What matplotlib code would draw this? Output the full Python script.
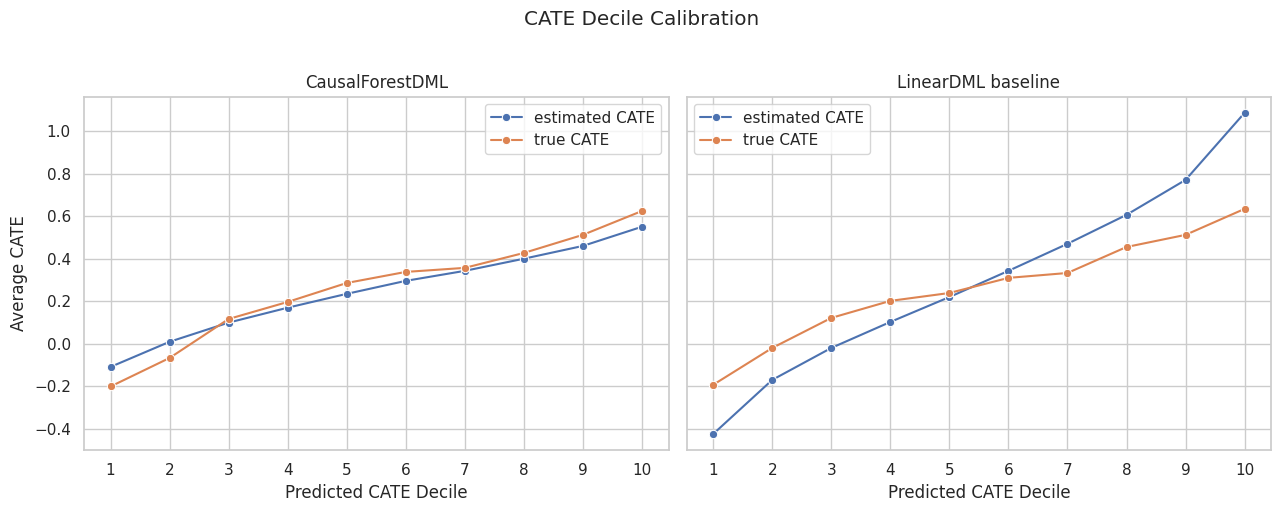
import numpy as np
import pandas as pd
import matplotlib
matplotlib.use('Agg')
import matplotlib.pyplot as plt
import seaborn as sns

# Данные по децилям
deciles = list(range(1, 11))

cf_estimated = [-0.108, 0.010, 0.100, 0.170, 0.235, 0.296, 0.343, 0.400, 0.460, 0.550]
cf_true = [-0.200, -0.066, 0.117, 0.197, 0.286, 0.338, 0.357, 0.427, 0.512, 0.624]

lin_estimated = [-0.423, -0.169, -0.019, 0.103, 0.220, 0.343, 0.470, 0.606, 0.770, 1.085]
lin_true = [-0.192, -0.019, 0.122, 0.202, 0.239, 0.310, 0.333, 0.455, 0.512, 0.634]

panels = [
    ("CausalForestDML", cf_estimated, cf_true),
    ("LinearDML baseline", lin_estimated, lin_true),
]

sns.set_theme(style="whitegrid")

fig, axes = plt.subplots(1, 2, figsize=(12.84, 5.12), dpi=100, sharey=True)

for ax, (title, est, tru) in zip(axes, panels):
    sns.lineplot(x=deciles, y=est, marker='o', label="estimated CATE", ax=ax)
    sns.lineplot(x=deciles, y=tru, marker='o', label="true CATE", ax=ax)
    ax.set_title(title)
    ax.set_xlabel("Predicted CATE Decile")
    ax.set_xticks(deciles)

axes[0].set_ylabel("Average CATE")
axes[0].legend(loc='upper right')
axes[1].legend(loc='upper left')

fig.suptitle("CATE Decile Calibration")
# расположение осей как в оригинале
fig.subplots_adjust(left=0.0654, right=0.99, bottom=0.121, top=0.811, wspace=0.031)
fig.savefig("out.png")
